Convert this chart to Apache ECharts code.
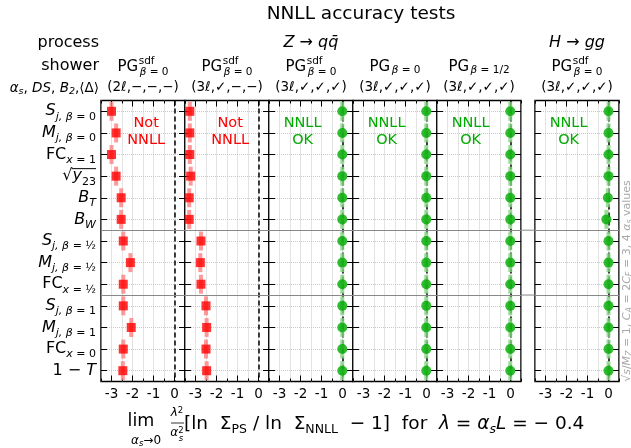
<!DOCTYPE html>
<html>
<head>
<meta charset="utf-8">
<script src="https://cdn.jsdelivr.net/npm/echarts@6/dist/echarts.min.js"></script>
<style>
  html, body { margin: 0; padding: 0; background: #fff; }
  #chart { width: 631px; height: 448px; }
</style>
</head>
<body>
<div id="chart"></div>
<script>
const FONT = 'DejaVu Sans';

// observables, top to bottom (rich-text tick labels)
const observables = [
  '{it|S}{subi|j, β}{sub| = 0}',
  '{it|M}{subi|j, β}{sub| = 0}',
  '{rm|FC}{subi|x}{sub| = 1}',
  '{rm|√}{it|y}{sub|23}',
  '{it|B}{subi|T}',
  '{it|B}{subi|W}',
  '{it|S}{subi|j, β}{sub| = ½}',
  '{it|M}{subi|j, β}{sub| = ½}',
  '{rm|FC}{subi|x}{sub| = ½}',
  '{it|S}{subi|j, β}{sub| = 1}',
  '{it|M}{subi|j, β}{sub| = 1}',
  '{rm|FC}{subi|x}{sub| = 0}',
  '{rm|1 − }{it|T}'
];
const rowIndex = observables.map((_, i) => i);
const xTicks = [-3, -2, -1, 0];
const separators = [5.5, 8.5];

// showers (one panel each)
const showerSup = ['sdf', 'sdf', 'sdf', '', '', 'sdf'];
const showerSub = ['β = 0', 'β = 0', 'β = 0', 'β = 0', 'β = 1/2', 'β = 0'];
const showerOpts = ['(2ℓ,−,−,−)', '(3ℓ,✓,−,−)', '(3ℓ,✓,✓,✓)', '(3ℓ,✓,✓,✓)', '(3ℓ,✓,✓,✓)', '(3ℓ,✓,✓,✓)'];
const showerOk = [false, false, true, true, true, true];

// NNLL test results per shower
const pgSdf2l     = [-3.00, -2.78, -3.00, -2.78, -2.54, -2.54, -2.44, -2.10, -2.44, -2.44, -2.06, -2.44, -2.46];
const pgSdf3lNoDS = [-3.27, -3.27, -3.27, -3.23, -3.30, -3.30, -2.74, -2.77, -2.74, -2.50, -2.47, -2.50, -2.47];
const pgSdfFull   = [-0.01, -0.01, -0.01, -0.01, -0.01, -0.01, -0.01, -0.01, -0.01, -0.01, -0.01, -0.01, -0.01];
const pgBeta0     = [-0.01, -0.01, -0.01, -0.01, -0.01, -0.01, -0.01, -0.01, -0.01, -0.01, -0.01, -0.01, -0.01];
const pgBetaHalf  = [-0.01, -0.01, -0.01, -0.01, -0.01, -0.01, -0.01, -0.01, -0.01, -0.01, -0.01, -0.01, -0.01];
const hggSdf      = [0.00, 0.00, 0.00, 0.00, -0.03, -0.10, 0.00, 0.00, 0.00, 0.00, 0.00, 0.00, 0.00];
const panelValues = [pgSdf2l, pgSdf3lNoDS, pgSdfFull, pgBeta0, pgBetaHalf, hggSdf];

const panelLeft = [101, 185, 269, 353, 437, 535];
const panelW = 84, panelTop = 100.5, panelH = 281;
const labelMargin = 5;

const labelRich = {
  it:   { fontFamily: FONT, fontStyle: 'italic', fontSize: 16, lineHeight: 22, color: '#000' },
  rm:   { fontFamily: FONT, fontSize: 16, lineHeight: 22, color: '#000' },
  sub:  { fontFamily: FONT, fontSize: 11, lineHeight: 12, verticalAlign: 'bottom', color: '#000' },
  subi: { fontFamily: FONT, fontStyle: 'italic', fontSize: 11, lineHeight: 12, verticalAlign: 'bottom', color: '#000' }
};

const grids = panelLeft.map(l => ({
  left: l, top: panelTop, width: panelW, height: panelH,
  show: true, borderColor: '#000', borderWidth: 1.5, backgroundColor: 'transparent'
}));

const xAxes = [];
const yAxes = [];
panelLeft.forEach((_, p) => {
  ['bottom', 'top'].forEach(pos => {
    // minor ticks + grid
    xAxes.push({
      gridIndex: p, type: 'value', position: pos, min: -3.5, max: 0.5, interval: 0.5,
      axisLine: { show: false, onZero: false },
      axisTick: { inside: true, length: 3, lineStyle: { color: '#000', width: 1 } },
      axisLabel: { show: false },
      splitLine: { show: pos === 'bottom', lineStyle: { color: '#c8c8c8', type: 'dotted', width: 1 } }
    });
    // major ticks + labels
    xAxes.push({
      gridIndex: p, type: 'value', position: pos, min: -3.5, max: 0.5,
      axisLine: { show: false, onZero: false },
      axisTick: { inside: true, length: 6, customValues: xTicks, lineStyle: { color: '#000', width: 1 } },
      axisLabel: {
        show: pos === 'bottom', customValues: xTicks, margin: 6,
        color: '#000', fontFamily: FONT, fontSize: 13.5, formatter: v => String(v)
      },
      splitLine: { show: false }
    });
  });
  ['left', 'right'].forEach(pos => {
    yAxes.push({
      gridIndex: p, type: 'value', position: pos, inverse: true,
      min: -0.5, max: observables.length - 0.5,
      axisLine: { show: false, onZero: false },
      axisTick: { inside: true, length: 6, customValues: rowIndex, lineStyle: { color: '#000', width: 1 } },
      axisLabel: {
        show: p === 0 && pos === 'left', customValues: rowIndex, margin: labelMargin,
        formatter: v => observables[v], rich: labelRich
      },
      splitLine: { show: pos === 'left', lineStyle: { color: '#c8c8c8', type: 'dotted', width: 1 } }
    });
  });
});

const series = [];
panelValues.forEach((vals, p) => {
  const ok = showerOk[p];
  const color = ok ? '#00aa00' : '#ff0000';
  const light = ok ? '#7fd47f' : '#ff8080';
  const pts = vals.map((v, i) => [v, i]);
  series.push({
    type: 'scatter', xAxisIndex: p * 4, yAxisIndex: p * 2, data: pts,
    symbol: 'rect', symbolSize: [4, 19], itemStyle: { color: light },
    silent: true, z: 2,
    markLine: {
      silent: true, symbol: 'none', z: 1, animation: false,
      label: { show: false },
      data: [{ xAxis: 0, lineStyle: { color: '#000', type: [5, 3], width: 1.5 } }]
        .concat(separators.map(y => ({ yAxis: y, lineStyle: { color: '#888', type: 'solid', width: 1 } })))
    }
  });
  series.push({
    type: 'scatter', xAxisIndex: p * 4, yAxisIndex: p * 2, data: pts,
    symbol: ok ? 'circle' : 'rect', symbolSize: ok ? 10 : 9,
    itemStyle: { color: color }, silent: true, z: 3
  });
});

const chart = echarts.init(document.getElementById('chart'), null, { renderer: 'canvas' });
chart.setOption({
  animation: false,
  backgroundColor: '#fff',
  textStyle: { fontFamily: FONT },
  grid: grids,
  xAxis: xAxes,
  yAxis: yAxes,
  series: series
});

// header / annotation texts
const ctx = document.createElement('canvas').getContext('2d');
function measure(str, size, italic) {
  ctx.font = (italic ? 'italic ' : '') + size + 'px "' + FONT + '"';
  return ctx.measureText(str).width;
}
const txt = (x, y, text, size, extra) => ({
  type: 'text', x: x, y: y, silent: true,
  style: Object.assign({ text: text, fontFamily: FONT, fontSize: size, fill: '#000',
    align: 'center', verticalAlign: 'middle' }, extra || {})
});
const GRAY = '#a8a8a8';

const graphics = [
  txt(361, 14, 'NNLL accuracy tests', 18.5),
  txt(99, 43, 'process', 16, { align: 'right' }),
  txt(99, 66, 'shower', 16, { align: 'right' }),
  {
    type: 'text', x: 99, y: 88, silent: true,
    style: {
      text: '{i|α}{s|s}{r|, }{i|DS}{r|, }{i|B}{s|2}{r|,⟨Δ⟩}', align: 'right', verticalAlign: 'middle',
      rich: {
        r: { fontFamily: FONT, fontSize: 13.5, lineHeight: 18 },
        i: { fontFamily: FONT, fontStyle: 'italic', fontSize: 13.5, lineHeight: 18 },
        s: { fontFamily: FONT, fontStyle: 'italic', fontSize: 9.5, lineHeight: 10, verticalAlign: 'bottom' }
      }
    }
  },
  txt(311, 43, 'Z → qq̄', 16, { fontStyle: 'italic' }),
  txt(577, 43, 'H → gg', 16, { fontStyle: 'italic' }),
  {
    type: 'text', x: 627, y: 281, rotation: Math.PI / 2, silent: true,
    style: {
      text: '{r|√}{i|s}{r|/}{i|M}{s|Z}{r| = 1, }{i|C}{s|A}{r| = 2}{i|C}{s|F}{r| = 3, 4 }{i|α}{s|s}{r| values}',
      align: 'center', verticalAlign: 'middle',
      rich: {
        r: { fontFamily: FONT, fontSize: 11, lineHeight: 14, fill: GRAY },
        i: { fontFamily: FONT, fontStyle: 'italic', fontSize: 11, lineHeight: 14, fill: GRAY },
        s: { fontFamily: FONT, fontStyle: 'italic', fontSize: 8, lineHeight: 8, verticalAlign: 'bottom', fill: GRAY }
      }
    }
  },
  // x-axis title
  txt(141, 421, 'lim', 17.5),
  {
    type: 'text', x: 146, y: 441, silent: true,
    style: {
      text: '{i|α}{s|s}{r|→0}', align: 'center', verticalAlign: 'middle',
      rich: {
        r: { fontFamily: FONT, fontSize: 12, lineHeight: 14 },
        i: { fontFamily: FONT, fontStyle: 'italic', fontSize: 12, lineHeight: 14 },
        s: { fontFamily: FONT, fontStyle: 'italic', fontSize: 8.5, lineHeight: 8, verticalAlign: 'bottom' }
      }
    }
  },
  {
    type: 'text', x: 177, y: 413, silent: true,
    style: {
      text: '{i|λ}{p|2}', align: 'center', verticalAlign: 'middle',
      rich: {
        i: { fontFamily: FONT, fontStyle: 'italic', fontSize: 12, lineHeight: 14 },
        p: { fontFamily: FONT, fontSize: 8.5, lineHeight: 8, verticalAlign: 'top' }
      }
    }
  },
  { type: 'line', silent: true, shape: { x1: 171, y1: 423, x2: 184, y2: 423 }, style: { stroke: '#000', lineWidth: 0.8 } },
  {
    type: 'text', x: 177, y: 433, silent: true,
    style: {
      text: '{i|α}{q|2}', align: 'center', verticalAlign: 'middle',
      rich: {
        i: { fontFamily: FONT, fontStyle: 'italic', fontSize: 12, lineHeight: 14 },
        q: { fontFamily: FONT, fontSize: 8.5, lineHeight: 8, verticalAlign: 'top' }
      }
    }
  },
  txt(178.8, 438.5, 's', 8.5, { fontStyle: 'italic', align: 'left' }),
  {
    type: 'text', x: 184, y: 424, silent: true,
    style: {
      text: '{r|[ln  Σ}{s|PS}{r| / ln  Σ}{s|NNLL}{r|  − 1]  for  }{i|λ}{r| = }{i|α}{si|s}{i|L}{r| = − 0.4}',
      align: 'left', verticalAlign: 'middle',
      rich: {
        r: { fontFamily: FONT, fontSize: 18.5, lineHeight: 24 },
        i: { fontFamily: FONT, fontStyle: 'italic', fontSize: 18.5, lineHeight: 24 },
        s: { fontFamily: FONT, fontSize: 12.5, lineHeight: 12, verticalAlign: 'bottom' },
        si: { fontFamily: FONT, fontStyle: 'italic', fontSize: 12.5, lineHeight: 12, verticalAlign: 'bottom' }
      }
    }
  }
];

// overline of the sqrt(y23) tick label
(function () {
  const rowY = chart.convertToPixel({ yAxisIndex: 0 }, 3);
  const right = panelLeft[0] - labelMargin;
  const sqrtW = measure('√', 16);
  const total = sqrtW + measure('y', 16, true) + measure('23', 11);
  graphics.push({ type: 'line', silent: true,
    shape: { x1: right - total + sqrtW - 1, y1: rowY - 7.5, x2: right, y2: rowY - 7.5 },
    style: { stroke: '#000', lineWidth: 1 } });
})();

// shower headers
panelLeft.forEach((l, p) => {
  const cx = l + panelW / 2;
  const pgW = measure('PG', 15);
  const subW = measure(showerSub[p], 10.5, true);
  const x0 = cx - (pgW + 1.5 + subW) / 2;
  graphics.push(txt(x0, 67.5, 'PG', 15, { align: 'left' }));
  if (showerSup[p]) graphics.push(txt(x0 + pgW + 0.5, 61, showerSup[p], 10.5, { align: 'left' }));
  graphics.push({
    type: 'text', x: x0 + pgW + 1.5, y: showerSup[p] ? 72 : 70.5, silent: true,
    style: {
      text: '{i|β}{r|' + showerSub[p].slice(1) + '}', align: 'left', verticalAlign: 'middle',
      rich: {
        i: { fontFamily: FONT, fontStyle: 'italic', fontSize: 10.5 },
        r: { fontFamily: FONT, fontSize: 10.5 }
      }
    }
  });
  graphics.push(txt(cx, 87, showerOpts[p], 13.5));

  // verdict in the panel
  const ok = showerOk[p];
  const pos = chart.convertToPixel({ xAxisIndex: p * 4, yAxisIndex: p * 2 }, [ok ? -1.9 : -1.35, 0.95]);
  graphics.push(txt(pos[0], pos[1], ok ? 'NNLL\nOK' : 'Not\nNNLL', 14.5,
    { fill: ok ? '#00aa00' : '#ff0000', lineHeight: 17 }));
});

// separator lines continue across the gap before the H->gg panel
separators.forEach(y => {
  const a = chart.convertToPixel({ xAxisIndex: 16, yAxisIndex: 8 }, [0.5, y]);
  const b = chart.convertToPixel({ xAxisIndex: 20, yAxisIndex: 10 }, [-3.5, y]);
  graphics.push({ type: 'line', silent: true, shape: { x1: a[0], y1: a[1], x2: b[0], y2: b[1] },
    style: { stroke: '#888', lineWidth: 1 } });
});

chart.setOption({ graphic: graphics });
</script>
</body>
</html>
